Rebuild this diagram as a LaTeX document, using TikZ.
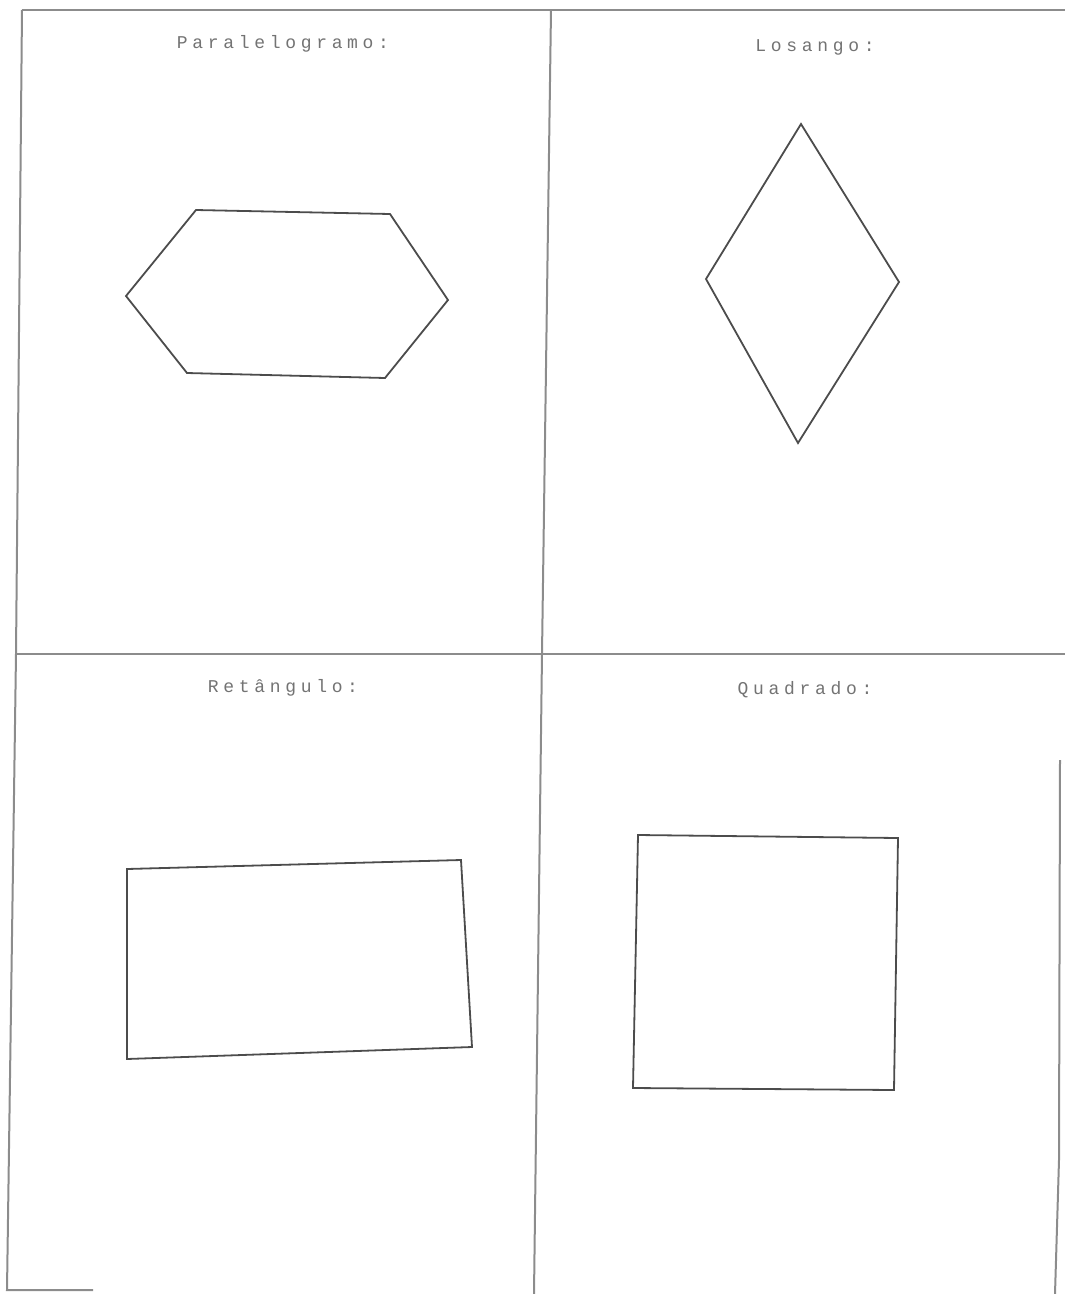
\documentclass[tikz,border=0pt]{standalone}
\usepackage{fontspec}
\newfontfamily\lblfont[LetterSpace=26]{Liberation Mono}
\begin{document}
\begin{tikzpicture}[x=1pt,y=-1pt,
  frame/.style={draw=black!45, line width=2pt},
  figline/.style={draw=black!70, line width=1.8pt, line join=miter},
  lbl/.style={font=\lblfont\fontsize{18}{18}\selectfont, text=black!55, inner sep=0pt}]
\useasboundingbox (0,0) rectangle (1065,1294);
% frame lines
\coordinate (tl) at (22,10);
\coordinate (tr) at (1065,10);
\coordinate (ml) at (16,654);
\coordinate (mr) at (1065,654);
\coordinate (bl) at (7,1290);
\coordinate (bb) at (93,1290);
\coordinate (vt) at (551,10);
\coordinate (vm) at (542,654);
\coordinate (vb) at (534,1294);
\coordinate (rt) at (1060,760);
\coordinate (rm) at (1059,1160);
\coordinate (rb) at (1055,1294);
\draw[frame] (tl) -- (tr);
\draw[frame] (ml) -- (mr);
\draw[frame] (tl) -- (ml) -- (bl) -- (bb);
\draw[frame] (vt) -- (vm) -- (vb);
\draw[frame] (rt) -- (rm) -- (rb);
% labels
\node[lbl] (l1) at (283,44) {Paralelogramo:};
\node[lbl] (l2) at (815,47) {Losango:};
\node[lbl] (l3) at (283,688) {Retângulo:};
\node[lbl] (l4) at (805,690) {Quadrado:};
% hexagon
\draw[figline] (196,210) -- (390,214) -- (448,300) -- (385,378) -- (187,373) -- (126,296) -- cycle;
% rhombus
\draw[figline] (801,124) -- (899,282) -- (798,443) -- (706,279) -- cycle;
% rectangle
\draw[figline] (127,869) -- (461,860) -- (472,1047) -- (127,1059) -- cycle;
% square
\draw[figline] (638,835) -- (898,838) -- (894,1090) -- (633,1088) -- cycle;
\end{tikzpicture}
\end{document}
